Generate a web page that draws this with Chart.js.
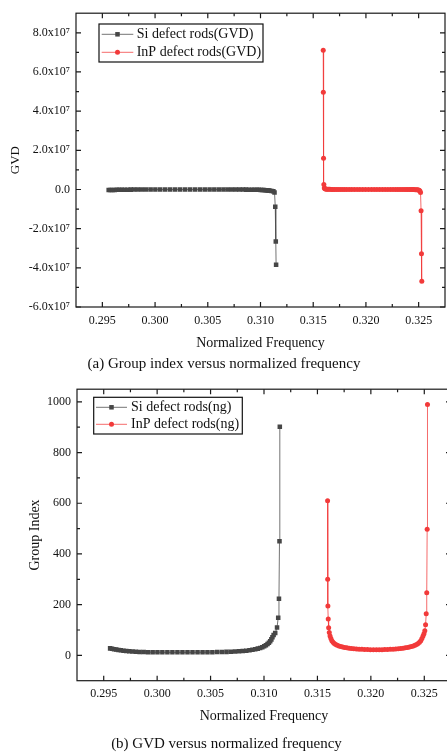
<!DOCTYPE html>
<html>
<head>
<meta charset="utf-8">
<script src="https://cdn.jsdelivr.net/npm/chart.js@4.4.0/dist/chart.umd.min.js"></script>
<style>
html, body { margin: 0; padding: 0; background: #fff; overflow: hidden; width: 447px; height: 756px; }
.panel { position: absolute; left: 0; }
</style>
</head>
<body>
<div class="panel" style="top:0"><canvas id="gvdChart" width="449" height="378"></canvas></div>
<div class="panel" style="top:376px"><canvas id="ngChart" width="455" height="380"></canvas></div>
<script>
/* Data */
const siFreq = [0.29560, 0.29578, 0.29597, 0.29617, 0.29638, 0.29661, 0.29685, 0.29711, 0.29739, 0.29769,
    0.29801, 0.29836, 0.29874, 0.29915, 0.29958, 0.30003, 0.30049, 0.30096, 0.30143, 0.30190,
    0.30237, 0.30284, 0.30331, 0.30378, 0.30425, 0.30471, 0.30517, 0.30562, 0.30606, 0.30649,
    0.30690, 0.30729, 0.30766, 0.30801, 0.30834, 0.30864, 0.30892, 0.30918, 0.30942, 0.30964,
    0.30984, 0.31002, 0.31018, 0.31033, 0.31046, 0.31058, 0.31069, 0.31079, 0.31090, 0.31105,
    0.31122, 0.31133, 0.31140, 0.31145, 0.31148]
const siNg = [27.5, 26, 24.5, 23, 21.5, 20, 18.5, 17, 15.8, 14.8,
    14, 13.4, 13, 12.6, 12.3, 12.1, 12, 11.9, 11.8, 11.8,
    11.8, 11.8, 11.9, 12, 12.1, 12.3, 12.5, 12.8, 13.2, 13.7,
    14.3, 15, 16, 17, 18.5, 20, 22, 24, 26.5, 29,
    32, 36, 40, 45, 50, 56, 63, 71, 80, 88,
    110, 148, 223, 450, 902]
const siGvd = [-3e5, -2.7e5, -2.4e5, -2.1e5, -1.8e5, -1.5e5, -1.3e5, -1.1e5, -9e4, -7e4,
    -5.5e4, -4e4, -3e4, -2e4, -1.2e4, -6e3, -2e3, 0, 0, 0,
    0, 0, 0, -1e3, -2e3, -4e3, -6e3, -9e3, -1.3e4, -1.8e4,
    -2.4e4, -3.1e4, -4e4, -5e4, -6.2e4, -7.6e4, -9.2e4, -1.1e5, -1.3e5, -1.5e5,
    -1.8e5, -2.1e5, -2.5e5, -3e5, -3.5e5, -4.1e5, -4.8e5, -5.6e5, -6.5e5, -7.5e5,
    -9e5, -1.5e6, -8.8e6, -2.66e7, -3.84e7]

const inpFreq = [0.31595, 0.31596, 0.31598, 0.31601, 0.31605, 0.31611, 0.31618, 0.31626, 0.31635, 0.31646,
    0.31658, 0.31671, 0.31685, 0.31701, 0.31718, 0.31736, 0.31755, 0.31775, 0.31796, 0.31818,
    0.31841, 0.31865, 0.31890, 0.31916, 0.31942, 0.31969, 0.31996, 0.32024, 0.32052, 0.32078,
    0.32104, 0.32130, 0.32156, 0.32182, 0.32208, 0.32233, 0.32257, 0.32280, 0.32302, 0.32323,
    0.32343, 0.32362, 0.32380, 0.32397, 0.32413, 0.32428, 0.32442, 0.32455, 0.32467, 0.32478,
    0.32488, 0.32497, 0.32505, 0.32512, 0.32518, 0.32523, 0.32527, 0.32530]
const inpNg = [610, 300, 195, 143, 109, 90, 76, 66, 58, 52,
    47, 43, 40, 37, 35, 33, 31, 29.5, 28, 27,
    26, 25, 24.3, 23.7, 23.2, 22.8, 22.5, 22.3, 22.2, 22.3,
    22.5, 22.8, 23.2, 23.7, 24.3, 25, 26, 27, 28, 29.5,
    31, 33, 35, 37, 40, 43, 47, 52, 58, 66,
    76, 85, 97, 121, 164, 247, 497, 990]
const inpGvd = [7.11e7, 4.96e7, 1.6e7, 2.6e6, 8e5, 4e5, 2.5e5, 1.6e5, 1.1e5, 8e4,
    6e4, 4.5e4, 3.5e4, 2.7e4, 2e4, 1.5e4, 1.1e4, 8e3, 6e3, 4e3,
    3e3, 2e3, 1e3, 0, 0, 0, 0, 0, 0, 0,
    0, 0, 0, 0, 0, -1e3, -2e3, -3e3, -4e3, -6e3,
    -8e3, -1.1e4, -1.5e4, -2e4, -2.7e4, -3.5e4, -4.5e4, -6e4, -8e4, -1.1e5,
    -1.6e5, -2.5e5, -4e5, -8e5, -1.5e6, -1.09e7, -3.28e7, -4.68e7]

const freqTicks = [0.295, 0.300, 0.305, 0.310, 0.315, 0.320, 0.325]
const gvdTicks = [-6e7, -4e7, -2e7, 0, 2e7, 4e7, 6e7, 8e7]
const gvdTickLabels = ['-6.0x10⁷', '-4.0x10⁷', '-2.0x10⁷', '0.0', '2.0x10⁷', '4.0x10⁷', '6.0x10⁷', '8.0x10⁷']
const ngTicks = [0, 200, 400, 600, 800, 1000]

/* Styles */
const serif = '"Liberation Serif", "Times New Roman", serif'
const ink = '#111'
const siColor = 'rgb(70,70,70)', siLine = 'rgba(70,70,70,0.75)'
const inpColor = 'rgb(242,58,58)', inpLine = 'rgba(242,58,58,0.75)'

Chart.defaults.font.family = serif
Chart.defaults.color = ink

function toPoints(xs, ys){
    return xs.map((x, i) => ({x: x, y: ys[i]}))
}

function series(label, xs, ys, color, line, style, radius){
    return {
        label: label,
        data: toPoints(xs, ys),
        showLine: true,
        borderColor: line,
        borderWidth: 1,
        pointStyle: style,
        pointRadius: radius,
        pointBackgroundColor: color,
        pointBorderWidth: 0
    }
}

/* minor ticks halfway between the major ones */
function minorValues(scale){
    let vals = scale.ticks.map(t => t.value), out = []
    let step = vals[1] - vals[0]
    vals.forEach(v => out.push(v - step / 2))
    out.push(vals[vals.length - 1] + step / 2)
    return out.filter(v => v > scale.min + 1e-12 && v < scale.max - 1e-12)
}

/* Box frame with inward ticks on all four sides */
const frameTicks = {
    id: 'frameTicks',
    afterDraw(chart){
        const ctx = chart.ctx, a = chart.chartArea
        const sx = chart.scales.x, sy = chart.scales.y
        ctx.save()
        ctx.strokeStyle = '#1a1a1a'
        ctx.lineWidth = 1.2
        ctx.beginPath()
        const xTick = (v, len) => {
            let p = sx.getPixelForValue(v)
            ctx.moveTo(p, a.bottom); ctx.lineTo(p, a.bottom - len)
            ctx.moveTo(p, a.top); ctx.lineTo(p, a.top + len)
        }
        const yTick = (v, len) => {
            let p = sy.getPixelForValue(v)
            ctx.moveTo(a.left, p); ctx.lineTo(a.left + len, p)
            ctx.moveTo(a.right, p); ctx.lineTo(a.right - len, p)
        }
        sx.ticks.forEach(t => xTick(t.value, 5))
        minorValues(sx).forEach(v => xTick(v, 3))
        sy.ticks.forEach(t => yTick(t.value, 5))
        minorValues(sy).forEach(v => yTick(v, 3))
        ctx.stroke()
        ctx.strokeRect(a.left, a.top, a.right - a.left, a.bottom - a.top)
        ctx.restore()
    }
}

/* Legend drawn as a framed box inside the plot */
const boxLegend = {
    id: 'boxLegend',
    afterDraw(chart, args, opts){
        const ctx = chart.ctx
        ctx.save()
        ctx.fillStyle = '#fff'
        ctx.fillRect(opts.x, opts.y, opts.w, opts.h)
        ctx.strokeStyle = ink
        ctx.lineWidth = 1.2
        ctx.strokeRect(opts.x, opts.y, opts.w, opts.h)
        chart.data.datasets.forEach((ds, i) => {
            let y = opts.y + opts.rowTop + i * opts.rowGap
            let x0 = opts.x + opts.lineStart
            ctx.strokeStyle = ds.borderColor
            ctx.lineWidth = 1
            ctx.beginPath()
            ctx.moveTo(x0, y); ctx.lineTo(x0 + opts.lineLen, y)
            ctx.stroke()
            ctx.fillStyle = ds.pointBackgroundColor
            Chart.helpers.drawPoint(ctx, {pointStyle: ds.pointStyle, radius: ds.pointRadius, rotation: 0, borderWidth: 0}, x0 + opts.lineLen / 2, y)
            ctx.fillStyle = ink
            ctx.font = '14px ' + serif
            ctx.textBaseline = 'middle'
            ctx.textAlign = 'left'
            ctx.fillText(ds.label, opts.x + opts.textStart, y + 0.5)
        })
        ctx.restore()
    }
}

function xAxis(height, labelPad, titlePad){
    return {
        type: 'linear', min: 0.2925, max: 0.3275,
        grid: {display: false, drawTicks: false},
        border: {display: false},
        afterBuildTicks: s => { s.ticks = freqTicks.map(v => ({value: v})) },
        ticks: {callback: v => v.toFixed(3), font: {size: 12}, color: ink, padding: labelPad, maxRotation: 0, autoSkip: false},
        title: {display: true, text: 'Normalized Frequency', font: {size: 14}, color: ink, padding: titlePad},
        afterFit: s => { s.height = height }
    }
}

/* (a) GVD */
new Chart(document.getElementById('gvdChart'), {
    type: 'scatter',
    data: {
        datasets: [
            series('Si defect rods(GVD)', siFreq, siGvd, siColor, siLine, 'rect', 3.2),
            series('InP defect rods(GVD)', inpFreq, inpGvd, inpColor, inpLine, 'circle', 2.5)
        ]
    },
    options: {
        responsive: false,
        animation: false,
        layout: {padding: {top: 6, right: 1, left: 0, bottom: 0}},
        plugins: {
            legend: {display: false},
            tooltip: {enabled: false},
            title: {display: true, position: 'bottom', text: '(a) Group index versus normalized frequency',
                font: {size: 15, weight: 'normal'}, color: ink, padding: {top: 3, bottom: 5}},
            boxLegend: {x: 99, y: 24, w: 164, h: 38, rowTop: 10.3, rowGap: 18, lineStart: 2.7, lineLen: 31.6, textStart: 37.7}
        },
        scales: {
            x: xAxis(45, 7, {top: 2, bottom: 0}),
            y: {
                type: 'linear', min: -6e7, max: 9e7,
                grid: {display: false, drawTicks: false},
                border: {display: false},
                afterBuildTicks: s => { s.ticks = gvdTicks.map(v => ({value: v})) },
                ticks: {callback: (v, i) => gvdTickLabels[i], font: {size: 12}, color: ink, padding: 6, autoSkip: false},
                title: {display: true, text: 'GVD', font: {size: 13}, color: ink, padding: {top: 8, bottom: 0}},
                afterFit: s => { s.width = 76 }
            }
        }
    },
    plugins: [frameTicks, boxLegend]
})

/* (b) Group index */
new Chart(document.getElementById('ngChart'), {
    type: 'scatter',
    data: {
        datasets: [
            series('Si defect rods(ng)', siFreq, siNg, siColor, siLine, 'rect', 3.2),
            series('InP defect rods(ng)', inpFreq, inpNg, inpColor, inpLine, 'circle', 2.5)
        ]
    },
    options: {
        responsive: false,
        animation: false,
        layout: {padding: {top: 5, right: 2, left: 0, bottom: 0}},
        plugins: {
            legend: {display: false},
            tooltip: {enabled: false},
            title: {display: true, position: 'bottom', text: '(b) GVD versus normalized frequency',
                font: {size: 15, weight: 'normal'}, color: ink, padding: {top: 5, bottom: 3}},
            boxLegend: {x: 93.7, y: 21.3, w: 148.6, h: 36.7, rowTop: 10, rowGap: 17, lineStart: 2.3, lineLen: 31, textStart: 37.3}
        },
        scales: {
            x: xAxis(49.3, 6, {top: 2, bottom: 5}),
            y: {
                type: 'linear', min: -100, max: 1050,
                grid: {display: false, drawTicks: false},
                border: {display: false},
                afterBuildTicks: s => { s.ticks = ngTicks.map(v => ({value: v})) },
                ticks: {callback: v => String(v), font: {size: 12}, color: ink, padding: 6, autoSkip: false},
                title: {display: true, text: 'Group Index', font: {size: 14}, color: ink, padding: {top: 26.6, bottom: 0}},
                afterFit: s => { s.width = 77 }
            }
        }
    },
    plugins: [frameTicks, boxLegend]
})
</script>
</body>
</html>
